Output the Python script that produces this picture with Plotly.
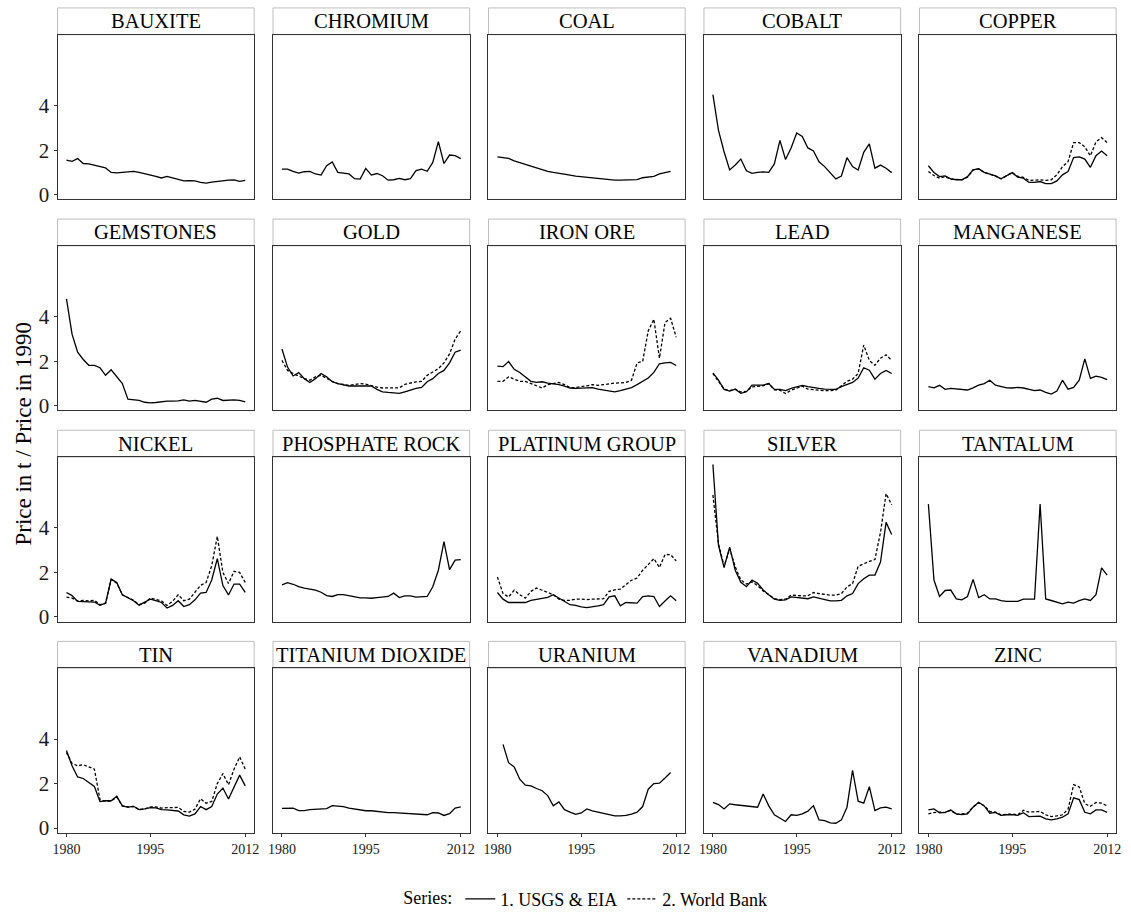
import plotly.graph_objects as go

years = list(range(1980, 2013))
N = None

minerals = ["BAUXITE", "CHROMIUM", "COAL", "COBALT", "COPPER",
            "GEMSTONES", "GOLD", "IRON ORE", "LEAD", "MANGANESE",
            "NICKEL", "PHOSPHATE ROCK", "PLATINUM GROUP", "SILVER", "TANTALUM",
            "TIN", "TITANIUM DIOXIDE", "URANIUM", "VANADIUM", "ZINC"]

# Series 1: USGS & EIA
usgs_bauxite = [1.55, 1.5, 1.62, 1.4, 1.38, 1.32, 1.25, 1.2, 1.0, 0.98, 1.0, 1.02, 1.05, 1.0, 0.95, 0.9, 0.82,
                0.75, 0.82, 0.75, 0.68, 0.62, 0.63, 0.62, 0.55, 0.52, 0.56, 0.6, 0.63, 0.65, 0.66, 0.6, 0.64]
usgs_chromium = [1.15, 1.15, 1.05, 0.97, 1.03, 1.05, 0.93, 0.88, 1.3, 1.47, 1.0, 0.98, 0.93, 0.72, 0.7, 1.18, 0.88,
                 0.95, 0.85, 0.65, 0.67, 0.73, 0.67, 0.72, 1.08, 1.15, 1.05, 1.45, 2.38, 1.4, 1.78, 1.75, 1.62]
usgs_coal = [1.7, 1.68, 1.63, 1.52, 1.44, 1.36, 1.26, 1.18, 1.1, 1.05, 1.0, 0.97, 0.93, 0.88, 0.83, 0.8, 0.77,
             0.74, 0.72, 0.68, 0.66, 0.65, 0.65, 0.66, 0.65, 0.68, 0.76, 0.8, 0.82, 0.93, 0.98, 1.05, N]
usgs_cobalt = [4.49, 2.89, 1.93, 1.11, 1.33, 1.6, 1.07, 0.96, 1.0, 1.02, 1.0, 1.38, 2.44, 1.58, 2.1, 2.77, 2.62,
               2.1, 1.96, 1.48, 1.26, 1.0, 0.71, 0.84, 1.66, 1.26, 1.11, 1.9, 2.28, 1.19, 1.33, 1.19, 0.99]
usgs_copper = [1.3, 1.0, 0.81, 0.84, 0.71, 0.67, 0.67, 0.81, 1.11, 1.17, 1.0, 0.92, 0.84, 0.71, 0.84, 0.99, 0.79,
               0.74, 0.55, 0.55, 0.59, 0.5, 0.5, 0.62, 0.89, 1.04, 1.67, 1.7, 1.6, 1.23, 1.75, 1.96, 1.75]
usgs_gemstones = [4.8, 3.22, 2.41, 2.08, 1.82, 1.82, 1.71, 1.37, 1.62, 1.3, 1.0, 0.3, 0.27, 0.24, 0.16, 0.13, 0.15,
                  0.19, 0.21, 0.21, 0.22, 0.27, 0.21, 0.24, 0.21, 0.16, 0.3, 0.34, 0.24, 0.25, 0.27, 0.24, 0.18]
usgs_gold = [2.55, 1.74, 1.34, 1.49, 1.22, 1.05, 1.22, 1.45, 1.3, 1.08, 1.0, 0.96, 0.89, 0.89, 0.9, 0.9, 0.89,
             0.74, 0.63, 0.6, 0.59, 0.56, 0.63, 0.72, 0.78, 0.83, 1.08, 1.22, 1.45, 1.59, 1.93, 2.41, 2.5]
usgs_iron = [1.78, 1.76, 1.99, 1.64, 1.5, 1.3, 1.1, 1.05, 1.08, 1.02, 1.0, 0.95, 0.88, 0.8, 0.78, 0.8, 0.8,
             0.82, 0.75, 0.7, 0.65, 0.63, 0.68, 0.75, 0.82, 0.95, 1.1, 1.25, 1.5, 1.89, 1.93, 1.95, 1.81]
usgs_lead = [1.48, 1.15, 0.74, 0.66, 0.75, 0.56, 0.63, 0.93, 0.93, 0.93, 1.0, 0.74, 0.74, 0.68, 0.78, 0.86, 0.92,
             0.86, 0.81, 0.78, 0.75, 0.74, 0.74, 0.86, 0.96, 1.05, 1.25, 1.71, 1.6, 1.2, 1.45, 1.59, 1.45]
usgs_manganese = [0.86, 0.81, 0.92, 0.74, 0.78, 0.75, 0.71, 0.71, 0.81, 0.93, 1.0, 1.15, 0.93, 0.86, 0.81, 0.8, 0.83,
                  0.8, 0.74, 0.68, 0.71, 0.6, 0.53, 0.66, 1.15, 0.75, 0.83, 1.15, 2.11, 1.23, 1.33, 1.28, 1.18]
usgs_nickel = [1.1, 0.96, 0.7, 0.69, 0.67, 0.67, 0.52, 0.62, 1.7, 1.55, 1.0, 0.87, 0.73, 0.53, 0.65, 0.8, 0.73,
               0.65, 0.4, 0.52, 0.73, 0.47, 0.55, 0.77, 1.07, 1.1, 1.66, 2.62, 1.41, 0.99, 1.48, 1.48, 1.11]
usgs_phosphate = [1.44, 1.54, 1.47, 1.36, 1.3, 1.26, 1.21, 1.11, 0.96, 0.92, 1.0, 1.0, 0.96, 0.92, 0.86, 0.86, 0.84,
                  0.87, 0.89, 0.92, 1.07, 0.87, 0.95, 0.95, 0.89, 0.9, 0.92, 1.36, 2.1, 3.39, 2.13, 2.55, 2.58]
usgs_platinum = [1.1, 0.8, 0.65, 0.65, 0.67, 0.65, 0.75, 0.8, 0.82, 0.88, 1.0, 0.85, 0.7, 0.55, 0.52, 0.45, 0.42,
                 0.45, 0.5, 0.55, 0.9, 0.95, 0.5, 0.65, 0.65, 0.62, 0.92, 0.95, 0.92, 0.47, 0.72, 0.95, 0.73]
usgs_silver = [6.85, 3.21, 2.22, 3.14, 2.1, 1.56, 1.36, 1.66, 1.51, 1.21, 1.0, 0.8, 0.75, 0.77, 0.9, 0.88, 0.87,
               0.82, 0.9, 0.85, 0.8, 0.72, 0.72, 0.75, 0.95, 1.05, 1.5, 1.72, 1.88, 1.88, 2.47, 4.25, 3.7]
usgs_tantalum = [5.07, 1.66, 0.92, 1.19, 1.21, 0.81, 0.77, 0.92, 1.69, 0.87, 1.0, 0.81, 0.81, 0.73, 0.7, 0.71, 0.7,
                 0.8, 0.8, 0.8, 5.07, 0.81, 0.74, 0.67, 0.59, 0.67, 0.62, 0.73, 0.81, 0.74, 1.0, 2.21, 1.88]
usgs_tin = [3.49, 2.8, 2.3, 2.23, 2.05, 1.87, 1.19, 1.23, 1.23, 1.43, 1.0, 0.94, 0.98, 0.83, 0.86, 0.92, 0.91,
            0.83, 0.82, 0.79, 0.77, 0.6, 0.54, 0.64, 0.97, 0.83, 0.97, 1.53, 1.8, 1.31, 1.87, 2.38, 1.9]
usgs_titanium = [0.89, 0.9, 0.9, 0.79, 0.79, 0.83, 0.85, 0.86, 0.88, 1.01, 1.0, 0.97, 0.9, 0.85, 0.8, 0.78, 0.78,
                 0.75, 0.7, 0.7, 0.7, 0.68, 0.67, 0.65, 0.63, 0.62, 0.6, 0.7, 0.68, 0.57, 0.65, 0.9, 0.95]
usgs_uranium = [N, 3.76, 2.94, 2.75, 2.2, 1.93, 1.9, 1.78, 1.68, 1.46, 1.0, 1.18, 0.83, 0.72, 0.62, 0.68, 0.86,
                0.78, 0.72, 0.66, 0.6, 0.55, 0.55, 0.57, 0.63, 0.72, 0.97, 1.75, 2.0, 2.02, 2.25, 2.5, N]
usgs_vanadium = [1.16, 1.06, 0.86, 1.09, 1.05, 1.03, 1.01, 0.97, 0.94, 1.53, 1.0, 0.6, 0.45, 0.3, 0.6, 0.57, 0.64,
                 0.76, 1.01, 0.37, 0.34, 0.24, 0.22, 0.37, 0.94, 2.6, 1.21, 1.12, 1.86, 0.79, 0.91, 0.94, 0.86]
usgs_zinc = [0.82, 0.86, 0.69, 0.71, 0.82, 0.64, 0.61, 0.64, 0.94, 1.16, 1.0, 0.67, 0.71, 0.57, 0.6, 0.61, 0.57,
             0.69, 0.52, 0.54, 0.54, 0.42, 0.37, 0.42, 0.49, 0.64, 1.36, 1.28, 0.71, 0.64, 0.82, 0.82, 0.71]

# Series 2: World Bank
wb_copper = [1.04, 0.86, 0.74, 0.81, 0.7, 0.67, 0.67, 0.78, 1.11, 1.16, 1.0, 0.92, 0.84, 0.71, 0.86, 0.99, 0.82,
             0.78, 0.64, 0.67, 0.67, 0.64, 0.67, 0.89, 1.26, 1.48, 2.34, 2.34, 2.15, 1.75, 2.37, 2.56, 2.34]
wb_gold = [2.04, 1.59, 1.45, 1.33, 1.22, 1.15, 1.3, 1.37, 1.22, 1.1, 1.0, 0.96, 0.92, 0.96, 1.0, 0.97, 0.89,
           0.84, 0.8, 0.8, 0.78, 0.81, 0.96, 1.03, 1.08, 1.1, 1.37, 1.52, 1.67, 1.93, 2.33, 3.0, 3.37]
wb_iron = [1.1, 1.1, 1.3, 1.2, 1.1, 1.1, 1.0, 0.9, 0.8, 0.95, 1.0, 1.05, 0.95, 0.82, 0.82, 0.85, 0.9,
           0.95, 0.92, 0.95, 1.0, 1.02, 1.03, 1.05, 1.15, 1.93, 2.0, 3.37, 3.89, 2.14, 3.74, 3.93, 3.08]
wb_lead = [1.45, 1.1, 0.75, 0.68, 0.75, 0.62, 0.65, 0.85, 0.88, 0.9, 1.0, 0.72, 0.7, 0.55, 0.7, 0.78, 0.88,
           0.75, 0.72, 0.7, 0.68, 0.68, 0.7, 0.9, 1.1, 1.2, 1.45, 2.73, 2.04, 1.82, 2.14, 2.29, 2.04]
wb_nickel = [0.89, 0.85, 0.72, 0.75, 0.72, 0.75, 0.55, 0.62, 1.68, 1.52, 1.0, 0.87, 0.75, 0.55, 0.62, 0.85, 0.78,
             0.72, 0.52, 0.7, 1.0, 0.73, 0.8, 1.12, 1.42, 1.55, 2.3, 3.62, 2.0, 1.5, 2.05, 2.0, 1.55]
wb_platinum = [1.8, 1.05, 0.9, 1.2, 1.0, 0.85, 1.15, 1.3, 1.2, 1.1, 1.0, 0.8, 0.75, 0.75, 0.8, 0.8, 0.78,
               0.8, 0.8, 0.82, 1.15, 1.22, 1.25, 1.45, 1.65, 1.75, 2.1, 2.35, 2.62, 2.22, 2.81, 2.8, 2.52]
wb_silver = [5.48, 3.29, 2.28, 3.07, 2.25, 1.66, 1.48, 1.58, 1.41, 1.17, 1.0, 0.82, 0.78, 0.8, 0.98, 0.95, 0.95,
             0.95, 1.1, 1.05, 1.0, 0.98, 0.98, 1.05, 1.35, 1.5, 2.28, 2.4, 2.5, 2.58, 3.8, 5.54, 5.04]
wb_tin = [3.4, 2.9, 2.8, 2.85, 2.75, 2.65, 1.28, 1.2, 1.22, 1.4, 1.0, 0.95, 0.98, 0.83, 0.86, 0.95, 0.95,
          0.9, 0.92, 0.93, 0.93, 0.75, 0.72, 0.85, 1.32, 1.12, 1.2, 2.0, 2.45, 1.95, 2.65, 3.2, 2.65]
wb_zinc = [0.64, 0.7, 0.72, 0.7, 0.8, 0.62, 0.64, 0.67, 0.95, 1.15, 1.0, 0.75, 0.72, 0.6, 0.62, 0.63, 0.6,
           0.8, 0.72, 0.75, 0.75, 0.6, 0.52, 0.55, 0.6, 0.85, 1.95, 1.85, 1.1, 0.98, 1.15, 1.12, 1.0]

usgs_series = [usgs_bauxite, usgs_chromium, usgs_coal, usgs_cobalt, usgs_copper,
               usgs_gemstones, usgs_gold, usgs_iron, usgs_lead, usgs_manganese,
               usgs_nickel, usgs_phosphate, usgs_platinum, usgs_silver, usgs_tantalum,
               usgs_tin, usgs_titanium, usgs_uranium, usgs_vanadium, usgs_zinc]
wb_series = {"COPPER": wb_copper, "GOLD": wb_gold, "IRON ORE": wb_iron, "LEAD": wb_lead,
             "NICKEL": wb_nickel, "PLATINUM GROUP": wb_platinum, "SILVER": wb_silver,
             "TIN": wb_tin, "ZINC": wb_zinc}

series_names = ["1. USGS & EIA", "2. World Bank"]
x_ticks = [1980, 1995, 2012]
y_ticks = [0, 2, 4]

# ---- layout geometry (pixels) ----
W, H = 1131, 922
NC, NR = 5, 4
left, right = 53.0, 1121.0
gap_x = 19.0
pw = (right - left - gap_x * (NC - 1)) / NC
top0 = 8.0
strip_h = 27.0
row_h = 193.0
row_pitch = 213.0

FONT = "Liberation Serif, Times New Roman, serif"

allv = [v for s in usgs_series for v in s if v is not None] + \
       [v for s in wb_series.values() for v in s if v is not None]
ymin, ymax = min(allv), max(allv)
ypad = 0.05 * (ymax - ymin)
yrange = [ymin - ypad, ymax + ypad]
xpad = 0.05 * (years[-1] - years[0])
xrange = [years[0] - xpad, years[-1] + xpad]

fig = go.Figure()
layout_axes = {}
shapes = []
annotations = []

for i, name in enumerate(minerals):
    r, c = divmod(i, NC)
    x0 = left + c * (pw + gap_x)
    x1 = x0 + pw
    st = top0 + r * row_pitch
    sb = st + strip_h
    pb = st + row_h
    k = i + 1
    xa = "x" if k == 1 else f"x{k}"
    ya = "y" if k == 1 else f"y{k}"
    xkey = "xaxis" if k == 1 else f"xaxis{k}"
    ykey = "yaxis" if k == 1 else f"yaxis{k}"
    bottom = (r == NR - 1)
    first = (c == 0)
    layout_axes[xkey] = dict(
        domain=[x0 / W, x1 / W], anchor=ya, range=xrange,
        showgrid=False, zeroline=False,
        showline=True, mirror=True, linecolor="#333333", linewidth=1,
        tickvals=x_ticks if bottom else [], ticks="outside" if bottom else "",
        ticklen=3, tickcolor="#333333", tickwidth=1,
        showticklabels=bottom,
        tickfont=dict(family=FONT, size=14, color="#1a1a1a"),
    )
    layout_axes[ykey] = dict(
        domain=[1 - pb / H, 1 - sb / H], anchor=xa, range=yrange,
        showgrid=False, zeroline=False,
        showline=True, mirror=True, linecolor="#333333", linewidth=1,
        tickvals=y_ticks if first else [], ticks="outside" if first else "",
        ticklen=3, tickcolor="#333333", tickwidth=1,
        showticklabels=first,
        tickfont=dict(family=FONT, size=21, color="#1a1a1a"),
    )
    shapes.append(dict(type="rect", xref="paper", yref="paper",
                       x0=x0 / W, x1=x1 / W, y0=1 - sb / H, y1=1 - st / H,
                       fillcolor="white", line=dict(color="#BEBEBE", width=1), layer="below"))
    annotations.append(dict(text=name, xref="paper", yref="paper",
                            x=(x0 + x1) / 2 / W, y=1 - (st + sb) / 2 / H,
                            xanchor="center", yanchor="middle", showarrow=False,
                            font=dict(family=FONT, size=20.5, color="black")))
    fig.add_trace(go.Scatter(x=years, y=usgs_series[i], mode="lines", xaxis=xa, yaxis=ya,
                             line=dict(color="black", width=1.3),
                             name=series_names[0], legendgroup="s1", showlegend=(i == 0)))
    if name in wb_series:
        fig.add_trace(go.Scatter(x=years, y=wb_series[name], mode="lines", xaxis=xa, yaxis=ya,
                                 line=dict(color="black", width=1.3, dash="3px,2px"),
                                 name=series_names[1], legendgroup="s2",
                                 showlegend=(name == "COPPER")))

panels_top = top0 + strip_h
panels_bottom = top0 + (NR - 1) * row_pitch + row_h
annotations.append(dict(text="Price in t / Price in 1990", xref="paper", yref="paper",
                        x=19 / W, y=1 - (panels_top + panels_bottom) / 2 / H,
                        textangle=-90, xanchor="center", yanchor="middle", showarrow=False,
                        font=dict(family=FONT, size=23, color="black")))

fig.update_layout(
    width=W, height=H,
    margin=dict(l=0, r=0, t=0, b=0),
    paper_bgcolor="white", plot_bgcolor="white",
    shapes=shapes, annotations=annotations,
    showlegend=True,
    legend=dict(orientation="h", x=(left + right) / 2 / W, xanchor="center",
                y=1 - 907 / H, yanchor="middle",
                title=dict(text="Series:", font=dict(family=FONT, size=18, color="black")),
                font=dict(family=FONT, size=18, color="black"),
                itemwidth=30, bgcolor="rgba(0,0,0,0)"),
    **layout_axes,
)

fig.write_html("out.html")
